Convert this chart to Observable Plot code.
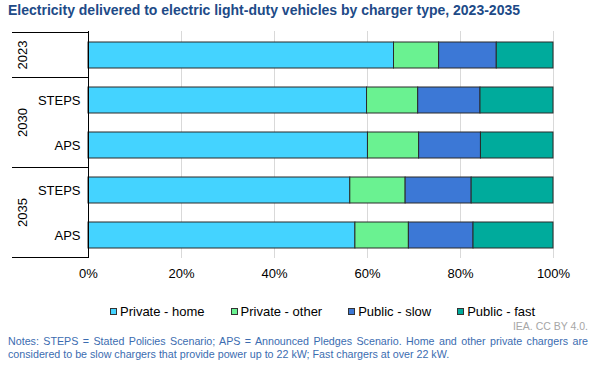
<!DOCTYPE html>
<html><head><meta charset="utf-8">
<script src="https://cdn.jsdelivr.net/npm/d3@7"></script>
<script src="https://cdn.jsdelivr.net/npm/@observablehq/plot@0.6"></script>
<style>
body{margin:0;width:598px;height:365px;position:relative;font-family:Arial,"Liberation Sans",sans-serif;background:#fff;overflow:hidden}
#title{position:absolute;left:8px;top:2px;font-weight:bold;font-size:14px;color:#204a87;white-space:nowrap}
#chart{position:absolute;left:0;top:22px}
#legend{position:absolute;left:110px;top:304px;display:flex;gap:26px;font-size:13px;line-height:15px;color:#000}
#legend .it{display:flex;align-items:center}
#legend .sw{width:7px;height:7px;border:1px solid #333;box-sizing:border-box;margin-right:3px}
#credit{position:absolute;right:10px;top:320px;font-size:10.5px;color:#a6a6a6}
#notes{position:absolute;left:8px;top:335px;width:580px;font-size:10.7px;line-height:12.5px;color:#3b6cb0;text-align:justify}
</style></head>
<body>
<div id="title">Electricity delivered to electric light-duty vehicles by charger type, 2023-2035</div>
<div id="chart"></div>
<div id="legend"></div>
<div id="credit">IEA. CC BY 4.0.</div>
<div id="notes">Notes: STEPS = Stated Policies Scenario; APS = Announced Pledges Scenario. Home and other private chargers are considered to be slow chargers that provide power up to 22 kW; Fast chargers at over 22 kW.</div>
<script>
const categories = ["2023", "2030 STEPS", "2030 APS", "2035 STEPS", "2035 APS"];
const years = ["2023", "2030", "2035"];
const chargerTypes = ["Private - home", "Private - other", "Public - slow", "Public - fast"];
const colors = ["#44d3ff", "#6af291", "#3c78d6", "#00ab9c"];
const privateHome  = [65.7, 59.9, 60.1, 56.3, 57.4];
const privateOther = [9.7, 11.0, 11.0, 11.9, 11.5];
const publicSlow   = [12.4, 13.4, 13.3, 14.2, 13.9];
const publicFast   = [12.2, 15.7, 15.6, 17.6, 17.2];
const xTicks = [0, 20, 40, 60, 80, 100];

const series = [privateHome, privateOther, publicSlow, publicFast];
const data = [];
categories.forEach((c, i) => chargerTypes.forEach((t, j) => data.push({cat: c, type: t, value: series[j][i]})));

const W = 598, H = 268, mL = 88, mR = 45, mT = 9, mB = 32;
const plot = Plot.plot({
  width: W, height: H,
  marginLeft: mL, marginRight: mR, marginTop: mT, marginBottom: mB,
  style: {fontSize: "13px", fontFamily: "Arial, 'Liberation Sans', sans-serif", color: "#000", background: "#fff"},
  x: {domain: [0, 100], ticks: xTicks, tickFormat: d => d + "%", tickSize: 0, tickPadding: 10, label: null},
  y: {domain: categories, paddingInner: 0.43, paddingOuter: 0.215, tickSize: 0, tickPadding: 8,
      tickFormat: d => d.split(" ")[1] || "", label: null},
  color: {domain: chargerTypes, range: colors},
  marks: [
    Plot.ruleX(xTicks.filter(d => d > 0), {stroke: "#d9d9d9", strokeWidth: 1}),
    Plot.barX(data, Plot.stackX({x: "value", y: "cat", fill: "type", stroke: "#2a2a2a", strokeWidth: 1, insetLeft: 0, insetRight: 0})),
    Plot.ruleX([0], {stroke: "#000", strokeWidth: 1})
  ]
});
document.getElementById("chart").appendChild(plot);

// hierarchical year labels and bracket lines, positioned with the plot's y scale
const ys = plot.scale("y");
const half = (ys.step - ys.bandwidth) / 2;
const svg = d3.select(plot);
const g = svg.append("g");
years.forEach(yr => {
  const cats = categories.filter(c => c.startsWith(yr));
  const top = ys.apply(cats[0]) - half;
  const bot = ys.apply(cats[cats.length - 1]) + ys.bandwidth + half;
  [top, bot].forEach(yy => g.append("line").attr("x1", 12).attr("x2", mL).attr("y1", yy).attr("y2", yy)
    .attr("stroke", "#000").attr("stroke-width", 1).attr("shape-rendering", "crispEdges"));
  g.append("text").attr("transform", `translate(22,${(top + bot) / 2}) rotate(-90)`)
    .attr("text-anchor", "middle").attr("dy", "0.35em").attr("font-size", 13).attr("fill", "#000").text(yr);
});

const lg = d3.select("#legend");
chargerTypes.forEach((t, i) => {
  const it = lg.append("div").attr("class", "it");
  it.append("div").attr("class", "sw").style("background", colors[i]);
  it.append("span").text(t);
});
</script>
</body></html>
